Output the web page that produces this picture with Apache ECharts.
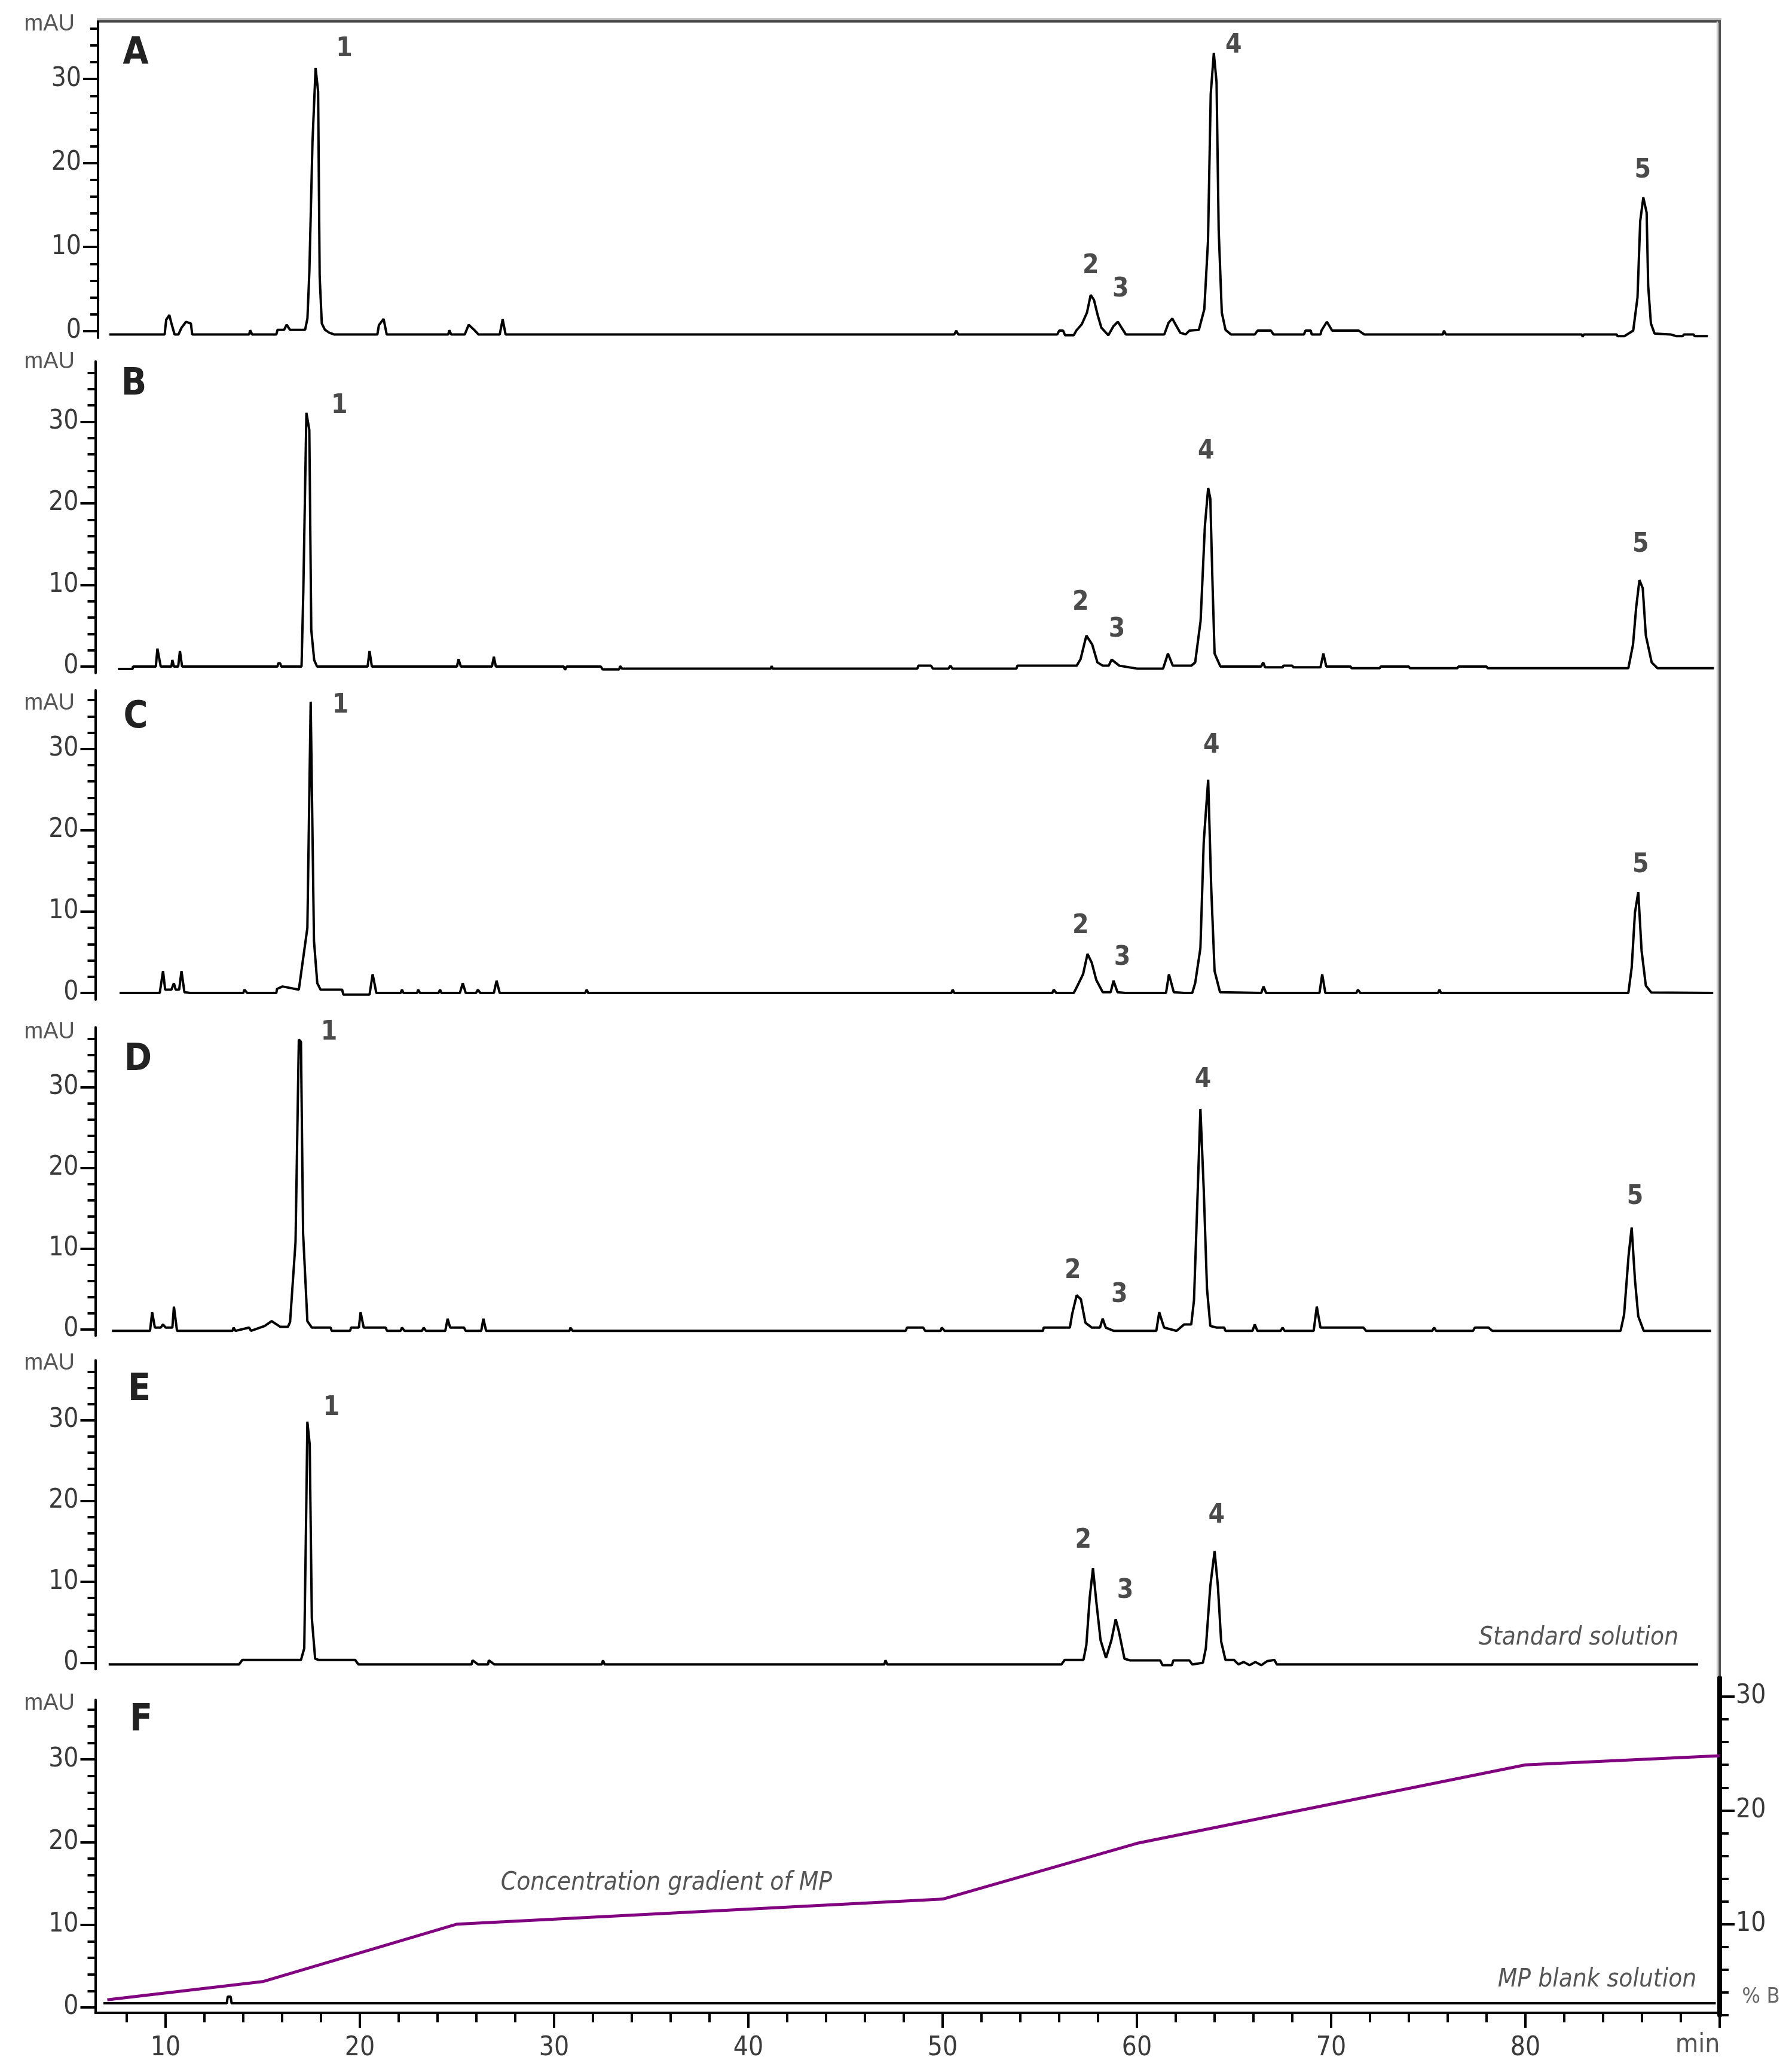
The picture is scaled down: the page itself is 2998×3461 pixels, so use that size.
<!DOCTYPE html>
<html>
<head>
<meta charset="utf-8">
<title>Chromatograms A-F</title>
<script src="https://cdn.jsdelivr.net/npm/echarts@6/dist/echarts.min.js"></script>
<style>
  html, body { margin: 0; padding: 0; background: #fff; }
  #chart { width: 2998px; height: 3461px; }
</style>
</head>
<body>
<div id="chart"></div>
<script>
// tick positions
const timeTicks = [10, 20, 30, 40, 50, 60, 70, 80]
const timeMinorTicks = [8, 12, 14, 16, 18, 22, 24, 26, 28, 32, 34, 36, 38, 42, 44, 46, 48, 52, 54, 56, 58, 62, 64, 66, 68, 72, 74, 76, 78, 82, 84, 86, 88]
const mauTicks = [0, 10, 20, 30]
const mauMinorTicks = [2, 4, 6, 8, 12, 14, 16, 18, 22, 24, 26, 28, 32, 34, 36]
const pctTicks = [10, 20, 30]
const pctMinorTicks = [2, 4, 6, 8, 12, 14, 16, 18, 22, 24, 26, 28]

// traces: [time (min), signal (mAU)]
const traceA = [[7.1,-0.4],[8.7,-0.4],[9.95,-0.4],[10.03,1.35],[10.19,1.9],[10.3,0.9],[10.46,-0.4],[10.66,-0.4],[10.82,0.4],[11.05,1.1],[11.3,0.9],[11.37,-0.4],[14.3,-0.4],[14.35,0.1],[14.45,-0.4],[15.7,-0.4],[15.76,0.15],[16.1,0.15],[16.23,0.75],[16.4,0.15],[17.18,0.15],[17.3,1.5],[17.4,7.1],[17.56,22.5],[17.72,31.3],[17.85,28.5],[17.93,6.5],[18.04,0.9],[18.2,0.15],[18.43,-0.2],[18.67,-0.4],[20.9,-0.4],[20.98,0.7],[21.22,1.45],[21.38,-0.4],[24.55,-0.4],[24.6,0.1],[24.7,-0.4],[25.4,-0.4],[25.6,0.75],[25.9,0.1],[26.1,-0.4],[27.2,-0.4],[27.35,1.4],[27.5,-0.4],[50.6,-0.4],[50.7,0.05],[50.8,-0.4],[55.9,-0.4],[56.0,0.05],[56.2,0.05],[56.3,-0.5],[56.75,-0.5],[56.88,0.05],[57.16,0.8],[57.43,2.2],[57.62,4.3],[57.79,3.7],[57.98,1.9],[58.17,0.4],[58.53,-0.5],[58.8,0.6],[59.02,1.1],[59.21,0.4],[59.43,-0.4],[61.41,-0.4],[61.63,0.98],[61.82,1.5],[62.01,0.7],[62.23,-0.2],[62.51,-0.4],[62.7,0.05],[63.19,0.15],[63.47,2.6],[63.66,10.7],[63.8,28.2],[63.96,33.1],[64.1,29.6],[64.21,12.0],[64.37,2.2],[64.56,0.15],[64.84,-0.4],[66.07,-0.4],[66.21,0.05],[66.9,0.05],[67.03,-0.4],[68.6,-0.4],[68.68,0.05],[68.95,0.05],[69.0,-0.4],[69.45,-0.4],[69.5,0.05],[69.78,1.1],[70.05,0.05],[71.42,0.05],[71.7,-0.4],[75.75,-0.4],[75.81,0.05],[75.9,-0.4],[82.9,-0.4],[82.95,-0.7],[83.0,-0.4],[84.7,-0.4],[84.73,-0.6],[85.1,-0.6],[85.14,-0.5],[85.55,0.05],[85.77,4.0],[85.91,13.1],[86.07,15.9],[86.24,14.1],[86.32,5.4],[86.46,0.9],[86.65,-0.3],[87.47,-0.4],[87.75,-0.6],[88.1,-0.6],[88.16,-0.4],[88.65,-0.4],[88.71,-0.6],[89.39,-0.6]]
const traceB = [[7.55,-0.3],[8.3,-0.3],[8.32,0],[9.5,0],[9.58,2.2],[9.75,0],[10.3,0],[10.35,0.8],[10.43,0],[10.65,0],[10.74,1.9],[10.85,0],[15.76,0],[15.8,0.4],[15.9,0.4],[15.95,0],[17.0,0],[17.09,9.1],[17.25,31.1],[17.4,29.0],[17.5,4.5],[17.65,0.8],[17.8,0],[20.4,0],[20.5,1.9],[20.62,0],[25.0,0],[25.08,0.9],[25.2,0],[26.8,0],[26.9,1.2],[27.0,0],[30.5,0],[30.56,-0.4],[30.65,0],[32.4,0],[32.5,-0.35],[33.35,-0.35],[33.4,0.05],[33.5,-0.25],[41.15,-0.25],[41.2,0.05],[41.25,-0.25],[48.7,-0.25],[48.75,0.1],[49.4,0.1],[49.5,-0.25],[50.3,-0.25],[50.4,0.1],[50.5,-0.25],[53.8,-0.25],[53.85,0.1],[56.9,0.1],[57.1,0.9],[57.4,3.8],[57.7,2.7],[57.97,0.5],[58.25,0.1],[58.55,0.1],[58.7,0.85],[59.1,0.1],[59.6,-0.1],[60.0,-0.25],[61.35,-0.25],[61.6,1.6],[61.85,0.1],[62.8,0.1],[63.0,0.5],[63.28,5.6],[63.5,17.2],[63.67,21.9],[63.78,20.6],[63.9,9.6],[64.0,1.6],[64.3,0],[66.4,0],[66.5,0.5],[66.6,-0.1],[67.5,-0.1],[67.55,0.1],[68.0,0.1],[68.05,-0.1],[69.45,-0.1],[69.6,1.6],[69.75,0],[71.0,0],[71.05,-0.2],[72.5,-0.2],[72.55,0],[74.0,0],[74.05,-0.2],[76.5,-0.2],[76.55,0],[78.0,0],[78.05,-0.2],[85.3,-0.2],[85.54,2.7],[85.7,7.2],[85.87,10.6],[86.04,9.6],[86.2,3.8],[86.5,0.5],[86.8,-0.2],[89.7,-0.2]]
const traceC = [[7.63,0],[9.7,0],[9.87,2.7],[9.98,0.4],[10.3,0.4],[10.43,1.2],[10.52,0.4],[10.7,0.4],[10.82,2.7],[10.97,0.1],[11.27,0],[14.0,0],[14.06,0.4],[14.2,0],[15.7,0],[15.74,0.5],[16.02,0.8],[16.86,0.4],[17.3,8.0],[17.47,35.8],[17.64,6.4],[17.81,1.2],[17.98,0.4],[19.09,0.4],[19.15,-0.2],[20.5,-0.2],[20.66,2.3],[20.85,0],[22.1,0],[22.17,0.4],[22.25,0],[22.95,0],[23.0,0.4],[23.1,0],[24.05,0],[24.13,0.4],[24.2,0],[25.15,0],[25.3,1.2],[25.45,0],[25.98,0],[26.08,0.4],[26.2,0],[26.9,0],[27.04,1.5],[27.2,0],[31.6,0],[31.68,0.4],[31.75,0],[50.45,0],[50.52,0.4],[50.6,0],[55.65,0],[55.72,0.4],[55.85,0],[56.75,0],[56.84,0.4],[57.23,2.3],[57.46,4.8],[57.68,3.7],[57.91,1.6],[58.24,0.1],[58.65,0.1],[58.8,1.5],[59.0,0.1],[59.4,0],[61.5,0],[61.65,2.3],[61.9,0.1],[62.44,0],[62.85,0],[63.0,1.2],[63.27,5.5],[63.44,18.5],[63.67,26.2],[63.83,12.7],[64.0,2.7],[64.28,0.1],[66.4,0],[66.52,0.8],[66.65,0],[69.4,0],[69.54,2.3],[69.7,0],[71.3,0],[71.38,0.4],[71.5,0],[75.5,0],[75.58,0.4],[75.65,0],[85.3,0],[85.47,3.1],[85.64,9.9],[85.81,12.4],[85.98,5.2],[86.2,0.9],[86.48,0.05],[89.67,0]]
const traceD = [[7.24,-0.2],[9.2,-0.2],[9.31,2.1],[9.45,0.2],[9.75,0.2],[9.87,0.6],[10.0,0.2],[10.35,0.2],[10.43,2.8],[10.59,-0.2],[13.45,-0.2],[13.5,0.2],[13.6,-0.2],[14.3,0.2],[14.4,-0.2],[15.1,0.4],[15.46,1.0],[15.9,0.3],[16.3,0.3],[16.41,0.9],[16.69,10.8],[16.86,35.9],[16.97,35.6],[17.08,11.9],[17.3,1.0],[17.53,0.2],[18.5,0.2],[18.55,-0.2],[19.5,-0.2],[19.55,0.2],[19.95,0.2],[20.04,2.1],[20.2,0.2],[21.33,0.2],[21.4,-0.2],[22.1,-0.2],[22.17,0.2],[22.3,-0.2],[23.2,-0.2],[23.29,0.2],[23.4,-0.2],[24.4,-0.2],[24.52,1.3],[24.65,0.2],[25.36,0.2],[25.45,-0.2],[26.25,-0.2],[26.36,1.3],[26.5,-0.2],[30.8,-0.2],[30.84,0.2],[30.95,-0.2],[48.1,-0.2],[48.17,0.2],[49.0,0.2],[49.1,-0.2],[49.9,-0.2],[49.96,0.2],[50.1,-0.2],[55.17,-0.2],[55.2,0.2],[56.55,0.2],[56.67,1.9],[56.9,4.2],[57.12,3.7],[57.35,0.8],[57.68,0.2],[58.1,0.2],[58.24,1.3],[58.4,0.2],[58.8,-0.2],[61.0,-0.2],[61.15,2.1],[61.4,0.2],[62.04,-0.2],[62.44,0.6],[62.8,0.6],[62.94,3.6],[63.11,15.6],[63.27,27.3],[63.44,17.4],[63.61,5.0],[63.78,0.4],[64.11,0.2],[64.5,0.2],[64.55,-0.2],[65.95,-0.2],[66.07,0.6],[66.2,-0.2],[67.4,-0.2],[67.5,0.2],[67.6,-0.2],[69.1,-0.2],[69.26,2.8],[69.45,0.2],[71.66,0.2],[71.8,-0.2],[75.2,-0.2],[75.3,0.2],[75.4,-0.2],[77.3,-0.2],[77.4,0.2],[78.1,0.2],[78.3,-0.2],[84.9,-0.2],[85.08,1.8],[85.31,9.1],[85.47,12.6],[85.64,6.1],[85.81,1.6],[86.09,-0.2],[89.56,-0.2]]
const traceE = [[7.07,-0.2],[13.78,-0.2],[13.95,0.35],[16.97,0.35],[17.14,1.8],[17.25,20.4],[17.3,29.8],[17.42,27.0],[17.53,5.5],[17.7,0.5],[17.87,0.35],[19.76,0.35],[19.93,-0.2],[25.75,-0.2],[25.8,0.3],[26.08,-0.2],[26.6,-0.2],[26.64,0.3],[26.92,-0.2],[32.45,-0.2],[32.52,0.3],[32.6,-0.2],[47.0,-0.2],[47.06,0.3],[47.15,-0.2],[56.12,-0.2],[56.28,0.35],[57.25,0.35],[57.4,2.2],[57.57,8.0],[57.74,11.7],[57.91,7.6],[58.13,2.8],[58.41,0.6],[58.69,2.8],[58.91,5.4],[59.08,3.8],[59.36,0.5],[59.64,0.3],[61.2,0.3],[61.32,-0.3],[61.8,-0.3],[61.88,0.3],[62.7,0.3],[62.85,-0.2],[63.4,0],[63.55,1.8],[63.78,9.5],[64.0,13.8],[64.17,9.5],[64.34,2.6],[64.56,0.35],[65.0,0.35],[65.23,-0.2],[65.5,0.1],[65.8,-0.3],[66.1,0.1],[66.4,-0.3],[66.7,0.2],[67.08,0.35],[67.2,-0.2],[88.89,-0.2]]
const blankF = [[6.8,0.5],[13.15,0.5],[13.2,1.3],[13.35,1.3],[13.4,0.5],[89.8,0.5]]
// mobile phase gradient: [time (min), % B]
const gradientMP = [[7,3.35],[15,4.95],[25,10.0],[50,12.2],[60,17.1],[80,24.0],[90,24.8]]

// peak numbers: [time, mAU, label]
const peaksA = [[19.2,33.5,'1'],[57.62,7.7,'2'],[59.16,4.95,'3'],[64.98,33.95,'4'],[86.04,19.1,'5']]
const peaksB = [[18.95,31.9,'1'],[57.1,7.8,'2'],[58.97,4.5,'3'],[63.56,26.3,'4'],[85.93,14.9,'5']]
const peaksC = [[19.0,35.3,'1'],[57.1,8.2,'2'],[59.25,4.3,'3'],[63.84,30.4,'4'],[85.93,15.7,'5']]
const peaksD = [[18.42,36.7,'1'],[56.7,7.2,'2'],[59.1,4.2,'3'],[63.4,30.9,'4'],[85.65,16.4,'5']]
const peaksE = [[18.53,31.5,'1'],[57.24,15.1,'2'],[59.4,8.9,'3'],[64.1,18.2,'4']]

const FONT = "'Liberation Sans Narrow', 'DejaVu Sans Condensed', 'Liberation Sans', sans-serif"
const X_MAX = 90
const RIGHT = 121

// layout of the six stacked panels (pixels)
const panels = [
  { key: 'A', data: traceA, peaks: peaksA, left: 164, xMin: 6.52, top: 36.6, height: 528.4, yMin: -0.8, yMax: 36.8, letterY: 90, mauY: 41 },
  { key: 'B', data: traceB, peaks: peaksB, left: 159.5, xMin: 6.385, top: 604.5, height: 521.4, yMin: -0.8, yMax: 37.4, letterY: 644, mauY: 606 },
  { key: 'C', data: traceC, peaks: peaksC, left: 159.5, xMin: 6.385, top: 1154.7, height: 517.2, yMin: -0.8, yMax: 37.2, letterY: 1201, mauY: 1177 },
  { key: 'D', data: traceD, peaks: peaksD, left: 159.5, xMin: 6.385, top: 1718.6, height: 515.7, yMin: -0.8, yMax: 37.4, letterY: 1774, mauY: 1727 },
  { key: 'E', data: traceE, peaks: peaksE, left: 159.5, xMin: 6.385, top: 2275.5, height: 516.8, yMin: -0.8, yMax: 37.4, letterY: 2326, mauY: 2281 },
  { key: 'F', data: blankF, peaks: [], left: 159.5, xMin: 6.385, top: 2843.5, height: 523.5, yMin: -0.65, yMax: 37.2, letterY: 2878, mauY: 2850 }
]

const black = { color: '#000', width: 4 }
const labelStyle = { color: '#3a3a3a', fontSize: 44, fontFamily: FONT }

const grid = panels.map(p => ({ left: p.left, right: RIGHT, top: p.top, height: p.height }))
// extra grid for the %B trace on the right axis of panel F
grid.push({ left: 159.5, right: RIGHT, top: 2807, height: 564 })

const xAxis = panels.map((p, i) => {
  if (p.key !== 'F') return { type: 'value', gridIndex: i, min: p.xMin, max: X_MAX, show: false }
  return {
    type: 'value', gridIndex: i, min: p.xMin, max: X_MAX, position: 'bottom',
    splitLine: { show: false },
    axisLine: { onZero: false, lineStyle: black },
    axisTick: { length: 25, lineStyle: black, customValues: timeTicks.concat([X_MAX]) },
    axisLabel: { margin: 38, customValues: timeTicks, ...labelStyle }
  }
})
xAxis.push({ type: 'value', gridIndex: 6, min: 6.385, max: X_MAX, show: false })
xAxis.push({
  type: 'value', gridIndex: 5, min: 6.385, max: X_MAX, position: 'bottom',
  splitLine: { show: false }, axisLine: { show: false, onZero: false }, axisLabel: { show: false },
  axisTick: { length: 16, lineStyle: black, customValues: timeMinorTicks }
})

const yAxis = []
panels.forEach((p, i) => {
  yAxis.push({
    type: 'value', gridIndex: i, position: 'left', min: p.yMin, max: p.yMax,
    splitLine: { show: false },
    axisLine: { show: true, lineStyle: black },
    axisTick: { length: 25, lineStyle: black, customValues: mauTicks },
    axisLabel: { margin: 28, customValues: mauTicks, ...labelStyle }
  })
  yAxis.push({
    type: 'value', gridIndex: i, position: 'left', min: p.yMin, max: p.yMax,
    splitLine: { show: false }, axisLine: { show: false }, axisLabel: { show: false },
    axisTick: { length: 13, lineStyle: black, customValues: mauMinorTicks }
  })
})
yAxis.push({
  type: 'value', gridIndex: 6, position: 'right', min: 2, max: 31.63,
  splitLine: { show: false },
  axisLine: { show: true, lineStyle: { color: '#000', width: 8 } },
  axisTick: { length: 25, lineStyle: black, customValues: pctTicks },
  axisLabel: { margin: 27, customValues: pctTicks, ...labelStyle }
})
yAxis.push({
  type: 'value', gridIndex: 6, position: 'right', min: 2, max: 31.63,
  splitLine: { show: false }, axisLine: { show: false }, axisLabel: { show: false },
  axisTick: { length: 15, lineStyle: black, customValues: pctMinorTicks }
})

const series = []
panels.forEach((p, i) => {
  series.push({
    type: 'line', xAxisIndex: i, yAxisIndex: 2 * i, data: p.data,
    symbol: 'none', lineStyle: { color: '#000', width: 4 }
  })
  if (p.peaks.length) {
    series.push({
      type: 'scatter', xAxisIndex: i, yAxisIndex: 2 * i, symbolSize: 1,
      itemStyle: { color: 'rgba(0,0,0,0)' },
      data: p.peaks.map(([t, v, n]) => ({ value: [t, v], name: n })),
      label: { show: true, position: 'inside', formatter: '{b}', color: '#1e1e1e', fontSize: 44, fontWeight: 'bold', fontFamily: FONT }
    })
  }
})
series.push({
  type: 'line', xAxisIndex: 6, yAxisIndex: 12, data: gradientMP,
  symbol: 'none', lineStyle: { color: '#800080', width: 5 }
})

function text(str, x, y, opts) {
  return {
    type: 'text', x: x, y: y, z: 10, silent: true,
    style: Object.assign({ text: str, textAlign: 'center', textVerticalAlign: 'middle', fill: '#555', font: '42px ' + FONT }, opts || {})
  }
}

const graphic = [
  // frame round the stack
  { type: 'line', silent: true, shape: { x1: 162, y1: 31.5, x2: 2880, y2: 31.5 }, style: { stroke: '#c4c4c4', lineWidth: 3 } },
  { type: 'line', silent: true, shape: { x1: 162, y1: 35.5, x2: 2879, y2: 35.5 }, style: { stroke: '#474747', lineWidth: 4.5 } },
  { type: 'line', silent: true, shape: { x1: 2873, y1: 36, x2: 2873, y2: 2807 }, style: { stroke: '#cfcfcf', lineWidth: 2.5 } },
  { type: 'line', silent: true, shape: { x1: 2877, y1: 34, x2: 2877, y2: 2809 }, style: { stroke: '#505050', lineWidth: 4 } },
  text('Standard solution', 2641, 2740, { font: 'italic 42px ' + FONT }),
  text('MP blank solution', 2672, 3312, { font: 'italic 42px ' + FONT }),
  text('Concentration gradient of MP', 1115, 3150, { font: 'italic 42px ' + FONT }),
  text('% B', 2946, 3341, { font: '36px ' + FONT, fill: '#666' }),
  text('min', 2840, 3422, { font: '44px ' + FONT, fill: '#555' })
]
const letterX = [227, 224, 227, 231, 233, 236]
panels.forEach((p, i) => {
  graphic.push(text(p.key, letterX[i], p.letterY, { font: 'bold 62px ' + FONT, fill: '#222' }))
  graphic.push(text('mAU', 125, p.mauY, { font: '38px Liberation Sans, sans-serif', fill: '#555', textAlign: 'right' }))
})

const chart = echarts.init(document.getElementById('chart'))
chart.setOption({
  animation: false,
  backgroundColor: '#fff',
  grid: grid,
  xAxis: xAxis,
  yAxis: yAxis,
  series: series,
  graphic: graphic
})
</script>
</body>
</html>
